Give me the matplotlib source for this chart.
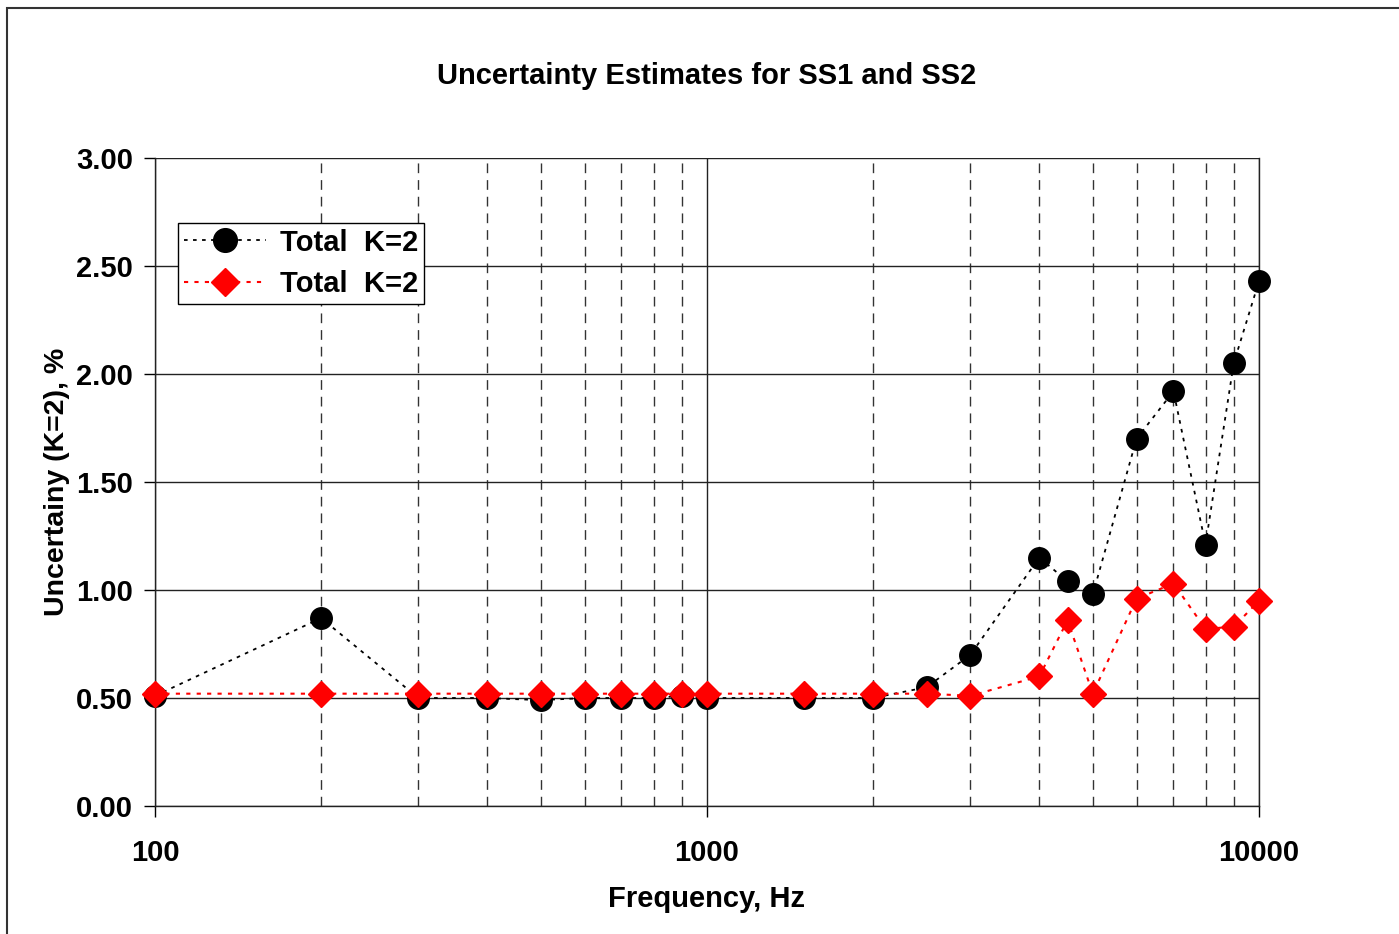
import matplotlib.pyplot as plt
import matplotlib.ticker as mticker
from matplotlib.patches import Rectangle

plt.rcParams['font.family'] = ['Liberation Sans', 'DejaVu Sans']
plt.rcParams['font.weight'] = 'bold'

freq = [100, 200, 300, 400, 500, 600, 700, 800, 900, 1000, 1500, 2000,
        2500, 3000, 4000, 4500, 5000, 6000, 7000, 8000, 9000, 10000]
ss1 = [0.51, 0.87, 0.50, 0.50, 0.49, 0.50, 0.50, 0.50, 0.51, 0.50, 0.50, 0.50,
       0.55, 0.70, 1.15, 1.04, 0.98, 1.70, 1.92, 1.21, 2.05, 2.43]
ss2 = [0.52, 0.52, 0.52, 0.52, 0.52, 0.52, 0.52, 0.52, 0.52, 0.52, 0.52, 0.52,
       0.52, 0.51, 0.60, 0.86, 0.52, 0.96, 1.03, 0.82, 0.83, 0.95]
legend_labels = ['Total  K=2', 'Total  K=2']

fig = plt.figure(figsize=(13.99, 9.34), dpi=100)
ax = fig.add_axes([155/1399, 1-806/934, (1259-155)/1399, (806-158)/934])

fig.patches.append(Rectangle((7/1399, -0.1), 1.2, 1-8/934+0.1, transform=fig.transFigure,
                             fill=False, edgecolor='#333333', linewidth=1.5))

ax.plot(freq, ss1, color='black', linestyle=(0, (2, 3)), linewidth=1.3,
        marker='o', markersize=15.5, label=legend_labels[0], zorder=3, clip_on=False)
ax.plot(freq, ss2, color='red', linestyle=(0, (2, 3)), linewidth=1.5,
        marker='D', markersize=13, label=legend_labels[1], zorder=4, clip_on=False)

ax.set_xscale('log')
ax.set_xlim(100, 10000)
ax.set_ylim(0, 3)
ax.yaxis.set_major_locator(mticker.MultipleLocator(0.5))
ax.yaxis.set_major_formatter(mticker.FormatStrFormatter('%.2f'))
ax.xaxis.set_major_formatter(mticker.FuncFormatter(lambda v, p: '%d' % v))
ax.xaxis.set_minor_formatter(mticker.NullFormatter())

ax.grid(which='major', axis='both', color='#222222', linewidth=1.0, linestyle='-')
ax.grid(which='minor', axis='x', color='#333333', linewidth=1.0, linestyle=(0, (7, 5)))
ax.set_axisbelow(True)

ax.tick_params(axis='x', which='major', labelsize=21, direction='out', length=8, width=1, pad=16)
ax.tick_params(axis='y', which='major', labelsize=21, direction='out', length=8, width=1, pad=8)
ax.tick_params(axis='x', which='minor', direction='out', length=0)
for s in ax.spines.values():
    s.set_linewidth(1.0)
    s.set_color('#222222')
ax.spines['top'].set_visible(False)

ax.set_title('Uncertainty Estimates for SS1 and SS2', fontsize=21, fontweight='bold', pad=53)
ax.set_xlabel('Frequency, Hz', fontsize=21, fontweight='bold', labelpad=13)
ax.set_ylabel('Uncertainy (K=2), %', fontsize=20.5, fontweight='bold', labelpad=4)

leg = ax.legend(loc='upper left', bbox_to_anchor=(0.021, 0.9), fontsize=21, frameon=True,
                fancybox=False, edgecolor='black', framealpha=1, borderpad=0.2,
                handlelength=2.8, handletextpad=0.5, labelspacing=0.45, borderaxespad=0,
                markerscale=1.1)
leg.get_frame().set_linewidth(1.0)

fig.savefig('out.png', dpi=100)
